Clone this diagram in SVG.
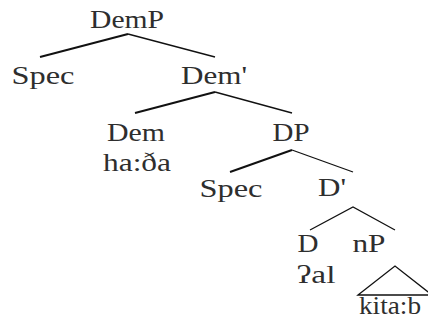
<svg xmlns="http://www.w3.org/2000/svg" width="428" height="320" viewBox="0 0 428 320" font-family="'Liberation Serif', 'Times New Roman', serif">
<style>
text{font-size:26px;fill:#2e2e2e;text-anchor:middle}
.l{stroke:#111;stroke-width:2;fill:none}
.r{stroke:#111;stroke-width:1.3;fill:none}
</style>
<rect width="428" height="320" fill="#fff"/>
<g id="connectors">
<path class="l" d="M40,57 L128,34"/><path class="r" d="M128,34 L215,57"/>
<path class="l" d="M135,113 L215,92"/><path class="r" d="M215,92 L292,113"/>
<path class="l" d="M230,172 L292,150"/><path class="r" d="M292,150 L353,172"/>
<path class="r" d="M310,230 L353,207 L395,230"/>
<path class="r" d="M358,295 L395,266 L432,295 Z"/>
</g>
<g id="DemP"><text x="127" y="28" textLength="74" lengthAdjust="spacingAndGlyphs">DemP</text></g>
<g id="Spec1"><text x="43" y="84" textLength="63" lengthAdjust="spacingAndGlyphs">Spec</text></g>
<g id="DemBar"><text x="214" y="84" textLength="66" lengthAdjust="spacingAndGlyphs">Dem'</text></g>
<g id="Dem"><text x="136" y="141" textLength="58" lengthAdjust="spacingAndGlyphs">Dem</text><text x="137" y="171" textLength="68" lengthAdjust="spacingAndGlyphs">ha:ða</text></g>
<g id="DP"><text x="291" y="141" textLength="37" lengthAdjust="spacingAndGlyphs">DP</text></g>
<g id="Spec2"><text x="231" y="197" textLength="63" lengthAdjust="spacingAndGlyphs">Spec</text></g>
<g id="DBar"><text x="332" y="196" textLength="28" lengthAdjust="spacingAndGlyphs">D'</text></g>
<g id="D"><text x="308" y="252" textLength="21" lengthAdjust="spacingAndGlyphs">D</text><text x="316" y="283" textLength="39" lengthAdjust="spacingAndGlyphs">ʔal</text></g>
<g id="nP"><text x="369" y="252" textLength="33" lengthAdjust="spacingAndGlyphs">nP</text><text x="390" y="314" textLength="62" lengthAdjust="spacingAndGlyphs">kita:b</text></g>
</svg>
